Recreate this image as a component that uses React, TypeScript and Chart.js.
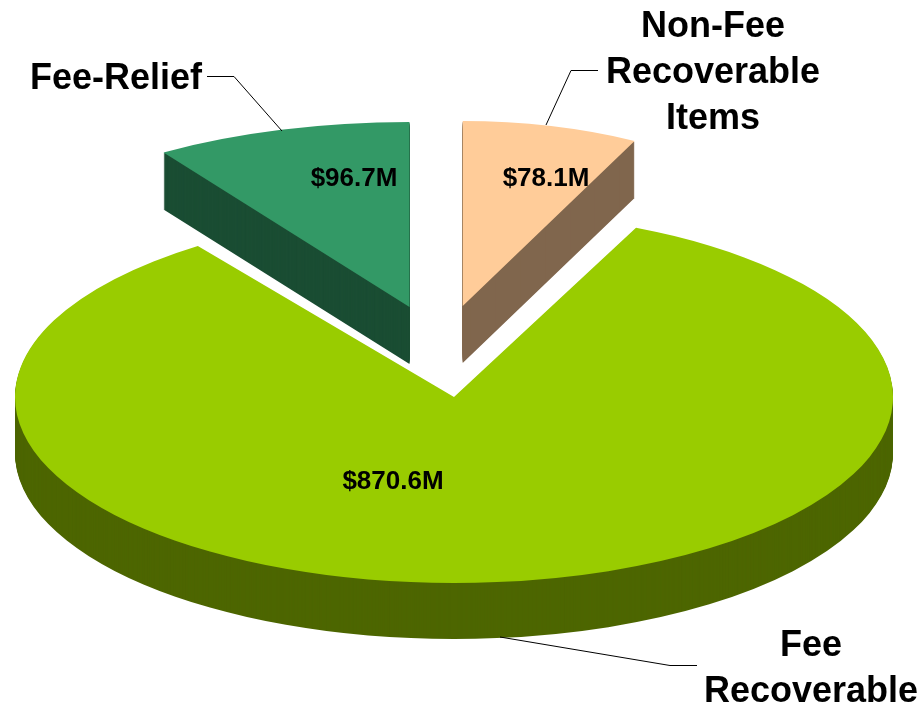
import React, { useEffect, useRef } from "react";
import { Chart, registerables } from "chart.js";

Chart.register(...registerables);

// Budget split, in millions of dollars, clockwise from twelve o'clock.
const categories = ["Non-Fee Recoverable Items", "Fee Recoverable", "Fee-Relief"];
const amounts = [78.1, 870.6, 96.7];
const topColors = ["#FFCC99", "#99CC00", "#339966"];
const wallColors = ["#80664D", "#4D6600", "#1A4D33"];

// Where each exploded wedge sits on the tilted plane (pixels; rotation in degrees).
const wedgePlacement = [
  { cx: 462.7, cy: 306, rx: 380, ry: 185, turn: 0, depth: 57 },
  { cx: 454, cy: 397, rx: 439, ry: 186, turn: -2.4, depth: 56 },
  { cx: 409.5, cy: 307, rx: 448, ry: 185, turn: 0, depth: 57 },
];
const paintOrder = [0, 2, 1];

const FONT = '"Liberation Sans", Arial, sans-serif';

const valueLabelPositions = [
  { x: 546, y: 186 },
  { x: 393, y: 489 },
  { x: 354, y: 186 },
];

const calloutTexts = [
  { lines: ["Non-Fee", "Recoverable", "Items"], x: 713, y: 37, align: "center" },
  { lines: ["Fee", "Recoverable"], x: 811, y: 656, align: "center" },
  { lines: ["Fee-Relief"], x: 30, y: 89, align: "left" },
];

const leaderLines = [
  [[598, 70.5], [571, 70.5], [546, 125]],
  [[500, 637], [670, 665.5], [697, 665.5]],
  [[207, 76.5], [234, 76.5], [282, 131]],
];

// Paints the arcs as extruded, tilted wedges, then the value labels and callouts.
const tiltedPie = {
  id: "tiltedPie",
  beforeDatasetsDraw(chart: any) {
    const ctx: CanvasRenderingContext2D = chart.ctx;
    const arcs = chart.getDatasetMeta(0).data;

    for (const i of paintOrder) {
      const arc = arcs[i];
      const place = wedgePlacement[i];
      const resolved = arc.options;
      for (let d = place.depth; d >= 0; d--) {
        ctx.save();
        ctx.translate(place.cx, place.cy + d);
        ctx.scale(place.rx / arc.outerRadius, place.ry / arc.outerRadius);
        ctx.rotate((place.turn * Math.PI) / 180);
        ctx.translate(-arc.x, -arc.y);
        arc.options = { ...resolved, backgroundColor: d === 0 ? topColors[i] : wallColors[i] };
        arc.draw(ctx);
        ctx.restore();
      }
      arc.options = resolved;
    }

    ctx.save();
    ctx.fillStyle = "#000";
    ctx.textBaseline = "alphabetic";

    ctx.font = `bold 26px ${FONT}`;
    ctx.textAlign = "center";
    amounts.forEach((v, i) => {
      const p = valueLabelPositions[i];
      ctx.fillText(`$${v.toFixed(1)}M`, p.x, p.y);
    });

    ctx.font = `bold 36px ${FONT}`;
    for (const c of calloutTexts) {
      ctx.textAlign = c.align as CanvasTextAlign;
      c.lines.forEach((line, k) => ctx.fillText(line, c.x, c.y + k * 46));
    }

    ctx.strokeStyle = "#000";
    ctx.lineWidth = 1;
    for (const path of leaderLines) {
      ctx.beginPath();
      path.forEach(([x, y], k) => (k ? ctx.lineTo(x, y) : ctx.moveTo(x, y)));
      ctx.stroke();
    }
    ctx.restore();
    return false;
  },
};

export default function App() {
  const canvasRef = useRef<HTMLCanvasElement>(null);

  useEffect(() => {
    const chart = new Chart(canvasRef.current!, {
      type: "pie",
      data: {
        labels: categories,
        datasets: [{ data: amounts, backgroundColor: topColors, borderWidth: 0 }],
      },
      options: {
        responsive: false,
        animation: false,
        events: [],
        devicePixelRatio: 1,
        plugins: { legend: { display: false }, tooltip: { enabled: false } },
      },
      plugins: [tiltedPie],
    });
    return () => chart.destroy();
  }, []);

  return (
    <div style={{ position: "absolute", left: 0, top: 0, width: 923, height: 707, background: "#fff", overflow: "hidden" }}>
      <canvas ref={canvasRef} width={923} height={707} style={{ display: "block" }} />
    </div>
  );
}
